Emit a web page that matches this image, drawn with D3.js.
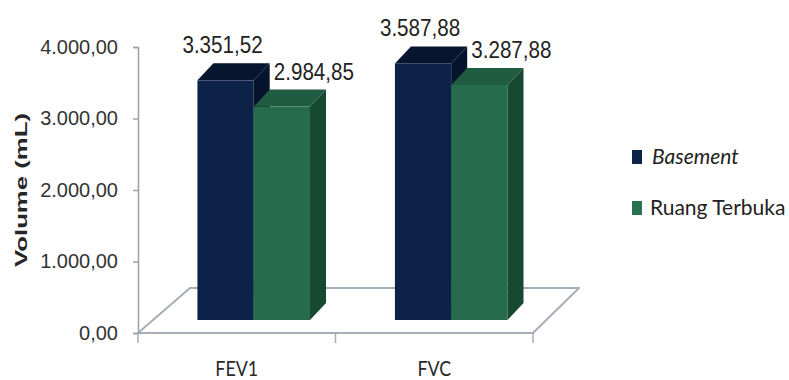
<!DOCTYPE html>
<html>
<head>
<meta charset="utf-8">
<script src="https://cdn.jsdelivr.net/npm/d3@7"></script>
<style>
  body { margin: 0; background: #ffffff; }
</style>
</head>
<body>
<div id="chart"></div>
<script>
const categories = ["FEV1", "FVC"];
const seriesNames = ["Basement", "Ruang Terbuka"];
const basementValues = [3351.52, 3587.88];
const ruangTerbukaValues = [2984.85, 3287.88];
const yTicks = [0, 1000, 2000, 3000, 4000];

const seriesValues = [basementValues, ruangTerbukaValues];

const palette = [
  { front: "#0c2249", top: "#07162f", side: "#06132c", legend: "#0c2249" },
  { front: "#266b4d", top: "#1f5c42", side: "#174832", legend: "#2a7352" }
];

const width = 789;
const height = 380;

// Indonesian number format: 3.351,52
const idLocale = d3.formatLocale({ decimal: ",", thousands: ".", grouping: [3], currency: ["", ""] });
const fmt = idLocale.format(",.2f");

const svg = d3.select("#chart").append("svg")
  .attr("width", width)
  .attr("height", height)
  .style("display", "block");

const y = d3.scaleLinear().domain([0, 4000]).range([333, 47]);
const x = d3.scaleBand().domain(categories).range([138, 533]);
const xs = d3.scaleBand()
  .domain(seriesNames)
  .range([x.bandwidth() * 0.23, x.bandwidth() * 0.80]);

// depth offsets for the 3d look
const floorLeft = { dx: 52, dy: -45 };
const floorRight = { dx: 46, dy: -45 };
const barShift = { dx: 14, dy: -13 };
const barDepth = { dx: 16, dy: -17 };

// floor
const y0 = y(0);
const xL = x.range()[0];
const xR = x.range()[1];
svg.append("path")
  .attr("d", d3.line()([
    [xL, y0],
    [xR, y0],
    [xR + floorRight.dx, y0 + floorRight.dy],
    [xL + floorLeft.dx, y0 + floorLeft.dy]
  ]) + "Z")
  .attr("fill", "none")
  .attr("stroke", "#a7aeb6")
  .attr("stroke-width", 2)
  .attr("stroke-linejoin", "round");

// x ticks below the floor front edge
const xTickPos = categories.map(c => x(c)).concat([xR]);
svg.append("g")
  .selectAll("line")
  .data(xTickPos)
  .join("line")
  .attr("x1", d => d)
  .attr("x2", d => d)
  .attr("y1", y0)
  .attr("y2", y0 + 10)
  .attr("stroke", "#a7aeb6")
  .attr("stroke-width", 1.5);

// y axis
const yAxis = svg.append("g")
  .attr("transform", `translate(${xL},0)`)
  .call(d3.axisLeft(y).tickValues(yTicks).tickSize(5).tickPadding(15).tickFormat(fmt));

yAxis.select(".domain")
  .attr("stroke", "#9aa1a9")
  .attr("stroke-width", 1.5);

yAxis.selectAll(".tick line")
  .attr("stroke", "#9aa1a9")
  .attr("stroke-width", 1.5);

yAxis.selectAll(".tick text")
  .attr("fill", "#333333")
  .style("font-family", "'Liberation Sans', Arial, sans-serif")
  .style("font-size", "20px");

svg.append("text")
  .attr("transform", "translate(27,190) rotate(-90)")
  .attr("text-anchor", "middle")
  .attr("textLength", 154)
  .attr("lengthAdjust", "spacingAndGlyphs")
  .attr("fill", "#262626")
  .style("font-family", "'Liberation Sans', Arial, sans-serif")
  .style("font-size", "17px")
  .style("font-weight", "700")
  .text("Volume (mL)");

// bars
const bars = [];
categories.forEach((cat, i) => {
  seriesNames.forEach((s, j) => {
    bars.push({ cat, s, j, value: seriesValues[j][i] });
  });
});

const barG = svg.append("g");

bars.forEach(b => {
  const x0 = x(b.cat) + xs(b.s) + barShift.dx;
  const x1 = x0 + xs.bandwidth();
  const yt = y(b.value) + barShift.dy;
  const yb = y(0) + barShift.dy;
  const c = palette[b.j];
  const g = barG.append("g");

  g.append("rect")
    .attr("x", x0)
    .attr("y", yt)
    .attr("width", x1 - x0)
    .attr("height", yb - yt)
    .attr("fill", c.front);

  g.append("path")
    .attr("d", d3.line()([
      [x0, yt], [x0 + barDepth.dx, yt + barDepth.dy],
      [x1 + barDepth.dx, yt + barDepth.dy], [x1, yt]
    ]) + "Z")
    .attr("fill", c.top);

  g.append("path")
    .attr("d", d3.line()([
      [x1, yt], [x1 + barDepth.dx, yt + barDepth.dy],
      [x1 + barDepth.dx, yb + barDepth.dy], [x1, yb]
    ]) + "Z")
    .attr("fill", c.side);

  b.labelX = (x0 + x1) / 2 + (b.j === 0 ? -3 : 32);
  b.labelY = yt - 27;
});

svg.append("g")
  .selectAll("text")
  .data(bars)
  .join("text")
  .attr("transform", d => `translate(${d.labelX},${d.labelY}) scale(0.86,1)`)
  .attr("text-anchor", "middle")
  .attr("fill", "#222222")
  .style("font-family", "'Liberation Sans', Arial, sans-serif")
  .style("font-size", "24px")
  .text(d => fmt(d.value));

// category labels
svg.append("g")
  .selectAll("text")
  .data(categories)
  .join("text")
  .attr("transform", d => `translate(${x(d) + x.bandwidth() / 2},376) scale(0.85,1)`)
  .attr("text-anchor", "middle")
  .attr("fill", "#2a2a2a")
  .style("font-family", "Lato, 'Open Sans', sans-serif")
  .style("font-size", "21px")
  .text(d => d);

// legend
const legend = svg.append("g")
  .selectAll("g")
  .data(seriesNames)
  .join("g")
  .attr("transform", (d, i) => `translate(632,${157 + i * 51})`);

legend.append("rect")
  .attr("x", 0)
  .attr("y", -7)
  .attr("width", 10)
  .attr("height", 14)
  .attr("fill", (d, i) => palette[i].legend);

legend.append("text")
  .attr("x", (d, i) => i === 0 ? 20 : 18)
  .attr("y", 7)
  .attr("fill", "#222222")
  .style("font-family", "Lato, 'Open Sans', sans-serif")
  .style("font-size", "21px")
  .style("font-style", (d, i) => i === 0 ? "italic" : "normal")
  .text(d => d);
</script>
</body>
</html>
